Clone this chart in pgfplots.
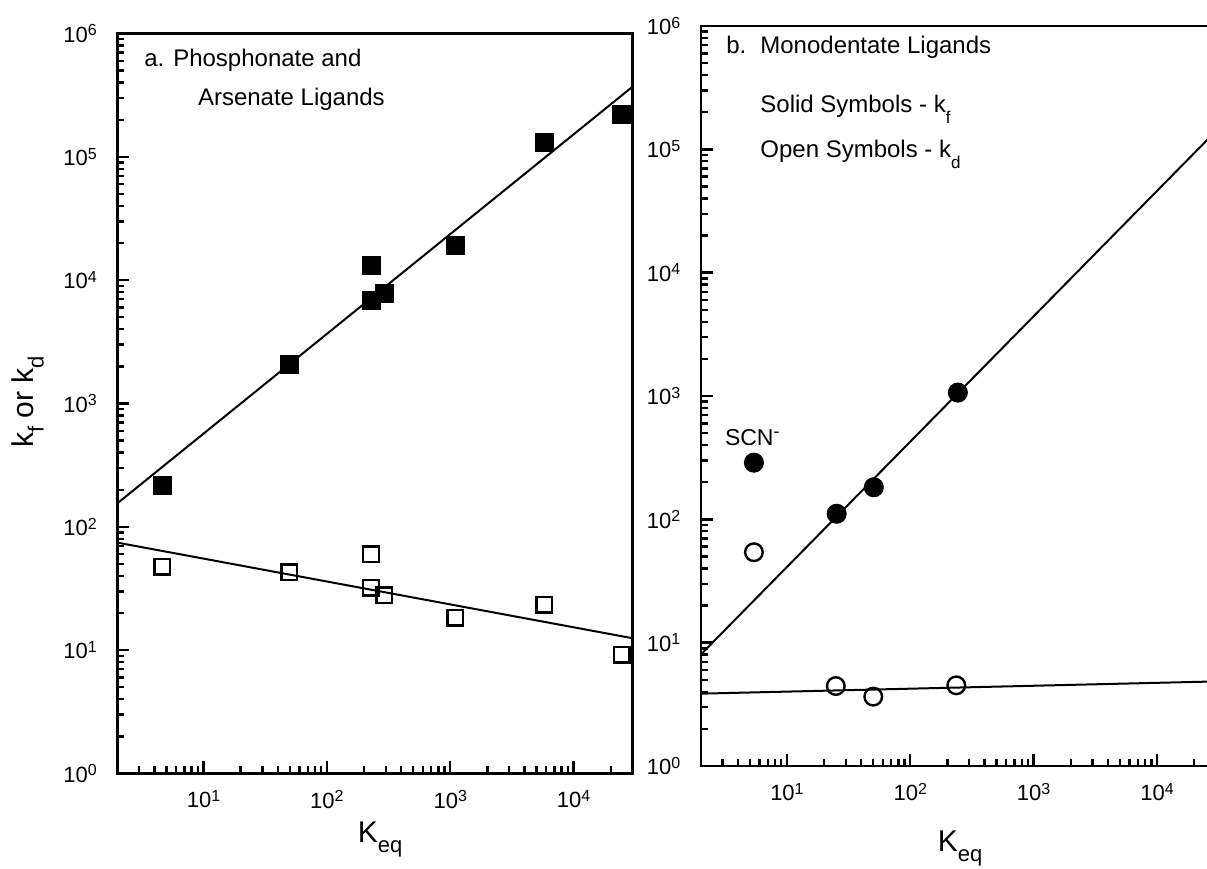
\documentclass[border=0pt]{standalone}
\usepackage{fontspec}
\setmainfont{Liberation Sans}
\usepackage{pgfplots}
\pgfplotsset{compat=1.18}

\newcommand{\tsup}[1]{\raisebox{3.2pt}{\fontsize{8}{8}\selectfont #1}}
\newcommand{\bigsub}[1]{\raisebox{-5pt}{\fontsize{11}{11}\selectfont #1}}
\newcommand{\smallsub}[1]{\raisebox{-5.5pt}{\fontsize{8.5}{8.5}\selectfont #1}}

\tikzset{tk/.style={black, line width=1.2pt}}
\newcommand{\panelticks}{%
  \pgfplotsinvokeforeach{10,100,1000,10000}{\draw[tk] (axis cs:##1,1) -- ++(0pt,6pt);}%
  \pgfplotsinvokeforeach{3,4,5,6,7,8,9,20,30,40,50,60,70,80,90,200,300,400,500,600,700,800,900,2000,3000,4000,5000,6000,7000,8000,9000,20000}{\draw[tk] (axis cs:##1,1) -- ++(0pt,3.5pt);}%
  \pgfplotsinvokeforeach{10,100,1000,10000,100000}{\draw[tk] (axis cs:2,##1) -- ++(6pt,0pt);}%
  \pgfplotsinvokeforeach{2,3,4,5,6,7,8,9,20,30,40,50,60,70,80,90,200,300,400,500,600,700,800,900,2000,3000,4000,5000,6000,7000,8000,9000,20000,30000,40000,50000,60000,70000,80000,90000,200000,300000,400000,500000,600000,700000,800000,900000}{\draw[tk] (axis cs:2,##1) -- ++(3.5pt,0pt);}%
}

\pgfplotsset{
  panel/.style={
    scale only axis, width=257.6pt, height=370pt,
    xmin=2, xmax=3e4, ymin=1, ymax=1e6,
    clip=false,
    axis line style={line width=1.2pt},
    tick align=inside, tick pos=left,
    major tick length=0pt, minor tick length=0pt,
    xtick={10,100,1000,10000},
    xticklabels={10\tsup{1},10\tsup{2},10\tsup{3},10\tsup{4}},
    minor xtick={},
    ytick={1,10,100,1000,10000,100000,1000000},
    yticklabels={10\tsup{0},10\tsup{1},10\tsup{2},10\tsup{3},10\tsup{4},10\tsup{5},10\tsup{6}},
    minor ytick={},
    tick label style={font=\fontsize{11}{13}\selectfont},
    yticklabel style={xshift=-6.7pt},
    xticklabel style={yshift=-5pt},
  },
  fitline/.style={black, line width=1pt, no marks},
}

\begin{document}
\begin{tikzpicture}
% ---------------- panel a ----------------
\begin{loglogaxis}[panel, at={(58.65pt,47.75pt)}, anchor=south west]
  \panelticks
  % k_f (solid squares)
  \addplot[only marks, mark=square*, mark size=4.5pt, mark options={fill=black, draw=black}]
    coordinates {(4.63,218) (49.6,2090) (228,13100) (228,6900) (292,7820) (1096,19000) (5800,132000) (24500,219000)};
  % k_d (open squares)
  \addplot[only marks, mark=square, mark size=3.9pt, mark options={draw=black, line width=1.2pt}]
    coordinates {(4.63,47.4) (49.6,42.7) (228,59.7) (228,32.0) (292,27.9) (1096,18.3) (5800,23.3) (24500,9.2)};
  \addplot[fitline] coordinates {(2,155) (30000,370000)};
  \addplot[fitline] coordinates {(2,74.5) (30000,12.5)};
\end{loglogaxis}
% ---------------- panel b ----------------
\begin{loglogaxis}[panel, at={(350.35pt,51.5pt)}, anchor=south west]
  \panelticks
  \addplot[only marks, mark=*, mark size=4.8pt, mark options={fill=black, draw=black}]
    coordinates {(5.4,288) (25.3,111) (50.6,182) (243,1066)};
  \addplot[only marks, mark=o, mark size=4.4pt, mark options={draw=black, line width=1.2pt}]
    coordinates {(5.4,54.1) (24.9,4.45) (50.1,3.65) (236,4.51)};
  \addplot[fitline] coordinates {(2,8.0) (30000,140600)};
  \addplot[fitline] coordinates {(2,3.86) (30000,4.85)};
\end{loglogaxis}
% ---------------- texts ----------------
\node[anchor=base west, inner sep=0pt, font=\fontsize{12}{14}\selectfont] at (72pt,401.2pt) {a. Phosphonate and};
\node[anchor=base west, inner sep=0pt, font=\fontsize{12}{14}\selectfont] at (98.8pt,381.7pt) {Arsenate Ligands};
\node[anchor=base west, inner sep=0pt, font=\fontsize{12}{14}\selectfont] at (363pt,407.8pt) {b.};
\node[anchor=base west, inner sep=0pt, font=\fontsize{12}{14}\selectfont] at (380pt,407.8pt) {Monodentate Ligands};
\node[anchor=base west, inner sep=0pt, font=\fontsize{12}{14}\selectfont] at (380pt,378pt) {Solid Symbols - k\smallsub{f}};
\node[anchor=base west, inner sep=0pt, font=\fontsize{12}{14}\selectfont] at (380pt,355.5pt) {Open Symbols - k\smallsub{d}};
\node[inner sep=0pt, font=\fontsize{11.5}{13}\selectfont] at (376.15pt,215.85pt) {SCN\raisebox{4pt}{\fontsize{9}{9}\selectfont -}};
\node[anchor=base, inner sep=0pt, font=\fontsize{15}{17}\selectfont] at (190pt,13pt) {K\bigsub{eq}};
\node[anchor=base, inner sep=0pt, font=\fontsize{15}{17}\selectfont] at (480pt,8.65pt) {K\bigsub{eq}};
\node[anchor=base, inner sep=0pt, rotate=90, font=\fontsize{15}{17}\selectfont] at (16.75pt,233.5pt) {k\bigsub{f} or k\bigsub{d}};
\pgfresetboundingbox
\path (0pt,0pt) rectangle (603.5pt,434.5pt);
\end{tikzpicture}
\end{document}
